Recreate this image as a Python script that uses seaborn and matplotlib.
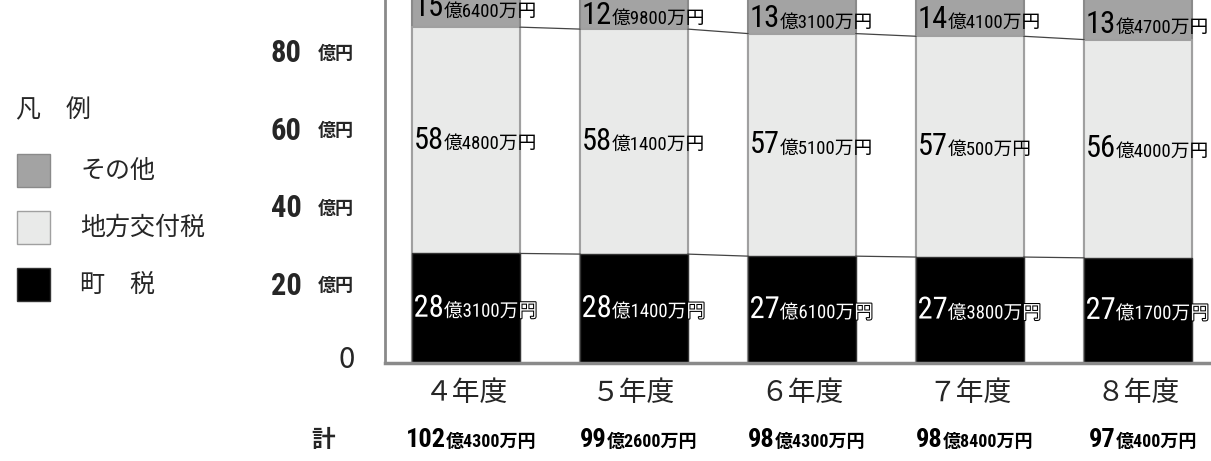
import numpy as np
import matplotlib
matplotlib.use("Agg")
import matplotlib.pyplot as plt
from matplotlib import font_manager
from matplotlib.patches import Rectangle
from matplotlib.offsetbox import TextArea, HPacker, AnnotationBbox
import matplotlib.patheffects as pe
import seaborn as sns

# values in 億円
years = ["４年度", "５年度", "６年度", "７年度", "８年度"]
town_tax = [28.31, 28.14, 27.61, 27.38, 27.17]
grant_tax = [58.48, 58.14, 57.51, 57.05, 56.40]
other = [15.64, 12.98, 13.31, 14.41, 13.47]
legend_labels = ["その他", "地方交付税", "町　税"]
y_ticks = [20, 40, 60, 80]

sns.set_style("white")
plt.rcParams["font.family"] = ["Noto Sans CJK JP", "DejaVu Sans"]

# pick a narrow face for the digits if one is installed
installed = {f.name for f in font_manager.fontManager.ttflist}
narrow = [n for n in ["Liberation Sans Narrow", "Roboto Condensed", "DejaVu Sans Condensed",
                      "Open Sans Condensed"] if n in installed]
NARROW = narrow[:1] + ["Noto Sans CJK JP"]
STRETCH = "normal" if narrow else "condensed"

c_other, c_grant, c_town = "#a3a3a3", "#e9eae9", "#000000"
W, H = 1211, 461


def oku(v):
    # 102.43 -> ("102", "億4300万円")
    o, m = divmod(int(round(v * 10000)), 10000)
    return str(o), "億{}万円".format(m)


def label_box(v, big, small, color, weight="normal"):
    a, b = oku(v)
    fx = [pe.withStroke(linewidth=1.5, foreground="black")] if color == "white" else None
    t1 = TextArea(a, textprops=dict(fontsize=big, color=color, family=NARROW, weight=weight,
                                    stretch=STRETCH, path_effects=fx))
    t2 = TextArea(b, textprops=dict(fontsize=small, color=color, family=NARROW, weight=weight,
                                    stretch=STRETCH, path_effects=fx))
    return HPacker(children=[t1, t2], align="baseline", pad=0, sep=0)


fig = plt.figure(figsize=(W / 100, H / 100), dpi=100)
ax = fig.add_axes([385 / W, 98 / H, 826 / W, 363 / H])

town = np.array(town_tax)
grant = np.array(grant_tax)
oth = np.array(other)
mid = town + grant
total = mid + oth
w = 0.64

# stacked by overdrawing cumulative heights
sns.barplot(x=years, y=total, color=c_other, saturation=1, width=w,
            edgecolor="#8a8a8a", linewidth=1.5, ax=ax)
sns.barplot(x=years, y=mid, color=c_grant, saturation=1, width=w,
            edgecolor="#a0a0a0", linewidth=1.5, ax=ax)
sns.barplot(x=years, y=town, color=c_town, saturation=1, width=w,
            edgecolor="#333333", linewidth=1.0, ax=ax)

# connector lines between bars
for i in range(len(years) - 1):
    for cum in (town, mid):
        ax.plot([i + w / 2, i + 1 - w / 2], [cum[i], cum[i + 1]], color="#444444", lw=0.9)

ax.set_xlim(-0.482, 4.435)
ax.set_ylim(0, 93.8)
ax.tick_params(left=False, bottom=False, labelleft=False, labelbottom=False)
ax.set_xlabel("")
ax.set_ylabel("")
for s in ["top", "right"]:
    ax.spines[s].set_visible(False)
ax.spines["left"].set_color("#8a8a8a")
ax.spines["left"].set_linewidth(2)
ax.spines["bottom"].set_color("#8a8a8a")
ax.spines["bottom"].set_linewidth(2.5)

# labels inside segments
for i in range(len(years)):
    segs = [(town[i], 0, "white", 0), (grant[i], town[i], "black", 0),
            (oth[i], mid[i], "black", -8)]
    for v, b, col, dy in segs:
        ab = AnnotationBbox(label_box(v, 22, 13.5, col), (i - w / 2, b + v / 2),
                            xybox=(1, dy), boxcoords="offset points",
                            box_alignment=(0, 0.5), frameon=False, pad=0,
                            annotation_clip=False, zorder=5)
        ax.add_artist(ab)

# y axis labels
ytr = ax.get_yaxis_transform()
for v in y_ticks:
    ax.text(-0.1005, v, str(v), transform=ytr, ha="right", va="center",
            fontsize=22, weight="bold", family=NARROW, stretch=STRETCH)
    ax.text(-0.081, v, "億円", transform=ytr, ha="left", va="center",
            fontsize=13, weight="bold")
ax.text(-0.047, 0.8, "0", transform=ytr, ha="center", va="center", fontsize=21)

# year labels and totals
xtr = ax.get_xaxis_transform()
for i, yr in enumerate(years):
    ax.text(i, -0.0826, yr, transform=xtr, ha="center", va="center", fontsize=20)
    ab = AnnotationBbox(label_box(total[i], 19, 13, "black", "bold"), (i + 0.03, -0.212),
                        xycoords=xtr, box_alignment=(0.5, 0.5), frameon=False,
                        pad=0, annotation_clip=False)
    ax.add_artist(ab)
ax.text(-0.851, -0.212, "計", transform=xtr, ha="center", va="center",
        fontsize=17, weight="bold")

# legend on the left
fig.text(16 / W, 1 - 110 / H, "凡　例", va="center", fontsize=18)
leg_colors = [(c_other, "#8a8a8a"), (c_grant, "#a0a0a0"), (c_town, "#333333")]
for k, (lab, (fc, ec)) in enumerate(zip(legend_labels, leg_colors)):
    top = 154 + k * 57
    fig.add_artist(Rectangle((17 / W, 1 - (top + 33) / H), 33 / W, 33 / H,
                             transform=fig.transFigure, facecolor=fc, edgecolor=ec, lw=1))
    fig.text(80 / W, 1 - (top + 17) / H, lab, va="center", fontsize=18)

plt.savefig("out.png", dpi=100)
